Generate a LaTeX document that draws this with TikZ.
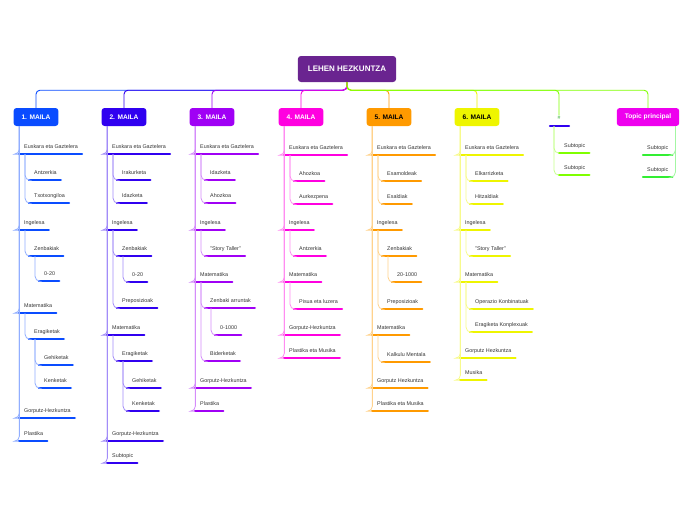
\documentclass[tikz,border=0pt]{standalone}
\usepackage{fontspec}
\setmainfont{Liberation Sans}
\definecolor{c1}{HTML}{0A4CFF}
\definecolor{c2}{HTML}{3000F0}
\definecolor{c3}{HTML}{A000F5}
\definecolor{c4}{HTML}{FF00E0}
\definecolor{c5}{HTML}{FF9A00}
\definecolor{c6}{HTML}{EEF500}
\definecolor{c7}{HTML}{7FFF00}
\definecolor{c8}{HTML}{EE00EE}
\definecolor{c9}{HTML}{33EE33}
\definecolor{rootc}{HTML}{6A2490}
\newcommand\mitem[6]{%
  \node[itm] (#2) at (#4,#5) {#6};
  \draw[bar,#1] ([xshift=-5pt]#2.south west) -- ([xshift=4pt]#2.south east);
  \draw[conn,#1!45] (#3) |- ([xshift=-5pt]#2.south west);}
\begin{document}
\begin{tikzpicture}[x=1pt,y=-1pt,
  itm/.style={anchor=west,inner xsep=0pt,minimum height=14pt,font=\fontsize{5.4}{6}\selectfont,text=black!80},
  bar/.style={line width=2.2pt,line cap=round},
  conn/.style={line width=0.8pt,rounded corners=5pt},
  topic/.style={rounded corners=3pt,minimum height=18pt,inner xsep=8pt,font=\fontsize{6.6}{7}\selectfont\bfseries,text=white},
  link/.style={line width=0.9pt,rounded corners=4pt}]
\useasboundingbox (0,0) rectangle (696,520);
\node[topic,fill=rootc,minimum height=26pt,inner xsep=10pt,font=\fontsize{8}{9}\selectfont\bfseries] (root) at (347,69) {LEHEN HEZKUNTZA};
\node[topic,fill=c1] (t1) at (36,117) {1. MAILA};
\node[topic,fill=c2] (t2) at (124,117) {2. MAILA};
\node[topic,fill=c3] (t3) at (212,117) {3. MAILA};
\node[topic,fill=c4] (t4) at (301,117) {4. MAILA};
\node[topic,fill=c5,text=black] (t5) at (389,117) {5. MAILA};
\node[topic,fill=c6,text=black] (t6) at (477,117) {6. MAILA};
\node[font=\fontsize{5}{6}\selectfont,text=c9!70!black,inner sep=1pt] (t7) at (559,118) {\#};
\node[topic,fill=c8] (t8) at (648,117) {Topic principal};
\draw[bar,c2] (550,126) coordinate (h1) -- (569,126) coordinate (h2);
\foreach \t/\c in {t1/c1,t2/c2,t3/c3,t4/c4,t5/c5,t6/c6,t8/c7}
  \draw[link,\c] (root.south) -- ++(0,8) -| (\t.north);
\draw[link,c7] (root.south) -- ++(0,8) -| (t7.north);
% column 1
\mitem{c1}{a1}{[xshift=6pt]t1.south west}{24}{147}{Euskara eta Gaztelera}
\mitem{c1}{a2}{[xshift=1pt]a1.south west}{34}{173}{Antzerkia}
\mitem{c1}{a3}{[xshift=1pt]a1.south west}{34}{196}{Txotxongiloa}
\mitem{c1}{a4}{[xshift=6pt]t1.south west}{24}{223}{Ingelesa}
\mitem{c1}{a5}{[xshift=1pt]a4.south west}{34}{249}{Zenbakiak}
\mitem{c1}{a6}{[xshift=1pt]a5.south west}{44}{274}{0-20}
\mitem{c1}{a7}{[xshift=6pt]t1.south west}{24}{306}{Matematika}
\mitem{c1}{a8}{[xshift=1pt]a7.south west}{34}{332}{Eragiketak}
\mitem{c1}{a9}{[xshift=1pt]a8.south west}{44}{358}{Gehiketak}
\mitem{c1}{a10}{[xshift=1pt]a8.south west}{44}{381}{Kenketak}
\mitem{c1}{a11}{[xshift=6pt]t1.south west}{24}{411}{Gorputz-Hezkuntza}
\mitem{c1}{a12}{[xshift=6pt]t1.south west}{24}{434}{Plastika}
% column 2
\mitem{c2}{b1}{[xshift=6pt]t2.south west}{112}{147}{Euskara eta Gaztelera}
\mitem{c2}{b2}{[xshift=1pt]b1.south west}{122}{173}{Irakurketa}
\mitem{c2}{b3}{[xshift=1pt]b1.south west}{122}{196}{Idazketa}
\mitem{c2}{b4}{[xshift=6pt]t2.south west}{112}{223}{Ingelesa}
\mitem{c2}{b5}{[xshift=1pt]b4.south west}{122}{249}{Zenbakiak}
\mitem{c2}{b6}{[xshift=1pt]b5.south west}{132}{275}{0-20}
\mitem{c2}{b7}{[xshift=1pt]b4.south west}{122}{301}{Preposizioak}
\mitem{c2}{b8}{[xshift=6pt]t2.south west}{112}{328}{Matematika}
\mitem{c2}{b9}{[xshift=1pt]b8.south west}{122}{354}{Eragiketak}
\mitem{c2}{b10}{[xshift=1pt]b9.south west}{132}{381}{Gehiketak}
\mitem{c2}{b11}{[xshift=1pt]b9.south west}{132}{404}{Kenketak}
\mitem{c2}{b12}{[xshift=6pt]t2.south west}{112}{434}{Gorputz-Hezkuntza}
\mitem{c2}{b13}{[xshift=6pt]t2.south west}{112}{456}{Subtopic}
% column 3
\mitem{c3}{d1}{[xshift=6pt]t3.south west}{200}{147}{Euskara eta Gaztelera}
\mitem{c3}{d2}{[xshift=1pt]d1.south west}{210}{173}{Idazketa}
\mitem{c3}{d3}{[xshift=1pt]d1.south west}{210}{196}{Ahozkoa}
\mitem{c3}{d4}{[xshift=6pt]t3.south west}{200}{223}{Ingelesa}
\mitem{c3}{d5}{[xshift=1pt]d4.south west}{210}{249}{"Story Taller"}
\mitem{c3}{d6}{[xshift=6pt]t3.south west}{200}{275}{Matematika}
\mitem{c3}{d7}{[xshift=1pt]d6.south west}{210}{301}{Zenbaki arruntak}
\mitem{c3}{d8}{[xshift=1pt]d7.south west}{220}{328}{0-1000}
\mitem{c3}{d9}{[xshift=1pt]d6.south west}{210}{354}{Biderketak}
\mitem{c3}{d10}{[xshift=6pt]t3.south west}{200}{381}{Gorputz-Hezkuntza}
\mitem{c3}{d11}{[xshift=6pt]t3.south west}{200}{404}{Plastika}
% column 4
\mitem{c4}{e1}{[xshift=6pt]t4.south west}{289}{148}{Euskara eta Gaztelera}
\mitem{c4}{e2}{[xshift=1pt]e1.south west}{299}{174}{Ahozkoa}
\mitem{c4}{e3}{[xshift=1pt]e1.south west}{299}{197}{Aurkezpena}
\mitem{c4}{e4}{[xshift=6pt]t4.south west}{289}{223}{Ingelesa}
\mitem{c4}{e5}{[xshift=1pt]e4.south west}{299}{249}{Antzerkia}
\mitem{c4}{e6}{[xshift=6pt]t4.south west}{289}{275}{Matematika}
\mitem{c4}{e7}{[xshift=1pt]e6.south west}{299}{302}{Pisua eta luzera}
\mitem{c4}{e8}{[xshift=6pt]t4.south west}{289}{328}{Gorputz-Hezkuntza}
\mitem{c4}{e9}{[xshift=6pt]t4.south west}{289}{351}{Plastika eta Musika}
% column 5
\mitem{c5}{f1}{[xshift=6pt]t5.south west}{377}{148}{Euskara eta Gaztelera}
\mitem{c5}{f2}{[xshift=1pt]f1.south west}{387}{174}{Esamoldeak}
\mitem{c5}{f3}{[xshift=1pt]f1.south west}{387}{197}{Esaldiak}
\mitem{c5}{f4}{[xshift=6pt]t5.south west}{377}{223}{Ingelesa}
\mitem{c5}{f5}{[xshift=1pt]f4.south west}{387}{249}{Zenbakiak}
\mitem{c5}{f6}{[xshift=1pt]f5.south west}{397}{275}{20-1000}
\mitem{c5}{f7}{[xshift=1pt]f4.south west}{387}{302}{Preposizioak}
\mitem{c5}{f8}{[xshift=6pt]t5.south west}{377}{328}{Matematika}
\mitem{c5}{f9}{[xshift=1pt]f8.south west}{387}{355}{Kalkulu Mentala}
\mitem{c5}{f10}{[xshift=6pt]t5.south west}{377}{381}{Gorputz Hezkuntza}
\mitem{c5}{f11}{[xshift=6pt]t5.south west}{377}{404}{Plastika eta Musika}
% column 6
\mitem{c6}{g1}{[xshift=6pt]t6.south west}{465}{148}{Euskara eta Gaztelera}
\mitem{c6}{g2}{[xshift=1pt]g1.south west}{475}{174}{Elkarrizketa}
\mitem{c6}{g3}{[xshift=1pt]g1.south west}{475}{197}{Hitzaldiak}
\mitem{c6}{g4}{[xshift=6pt]t6.south west}{465}{223}{Ingelesa}
\mitem{c6}{g5}{[xshift=1pt]g4.south west}{475}{249}{"Story Taller"}
\mitem{c6}{g6}{[xshift=6pt]t6.south west}{465}{275}{Matematika}
\mitem{c6}{g7}{[xshift=1pt]g6.south west}{475}{302}{Operazio Konbinatuak}
\mitem{c6}{g8}{[xshift=1pt]g6.south west}{475}{325}{Eragiketa Konplexuak}
\mitem{c6}{g9}{[xshift=6pt]t6.south west}{465}{351}{Gorputz Hezkuntza}
\mitem{c6}{g10}{[xshift=6pt]t6.south west}{465}{373}{Musika}
% column #
\mitem{c7}{h3}{[xshift=4pt]h1}{564}{146}{Subtopic}
\mitem{c7}{h4}{[xshift=4pt]h1}{564}{168}{Subtopic}
% topic principal
\node[itm] (s1) at (647,148) {Subtopic};
\draw[bar,c9] ([xshift=-4pt]s1.south west) -- ([xshift=4pt]s1.south east);
\draw[conn,c9!45] ([xshift=-4pt]t8.south east) |- ([xshift=4pt]s1.south east);
\node[itm] (s2) at (647,170) {Subtopic};
\draw[bar,c9] ([xshift=-4pt]s2.south west) -- ([xshift=4pt]s2.south east);
\draw[conn,c9!45] ([xshift=-4pt]t8.south east) |- ([xshift=4pt]s2.south east);
\end{tikzpicture}
\end{document}
